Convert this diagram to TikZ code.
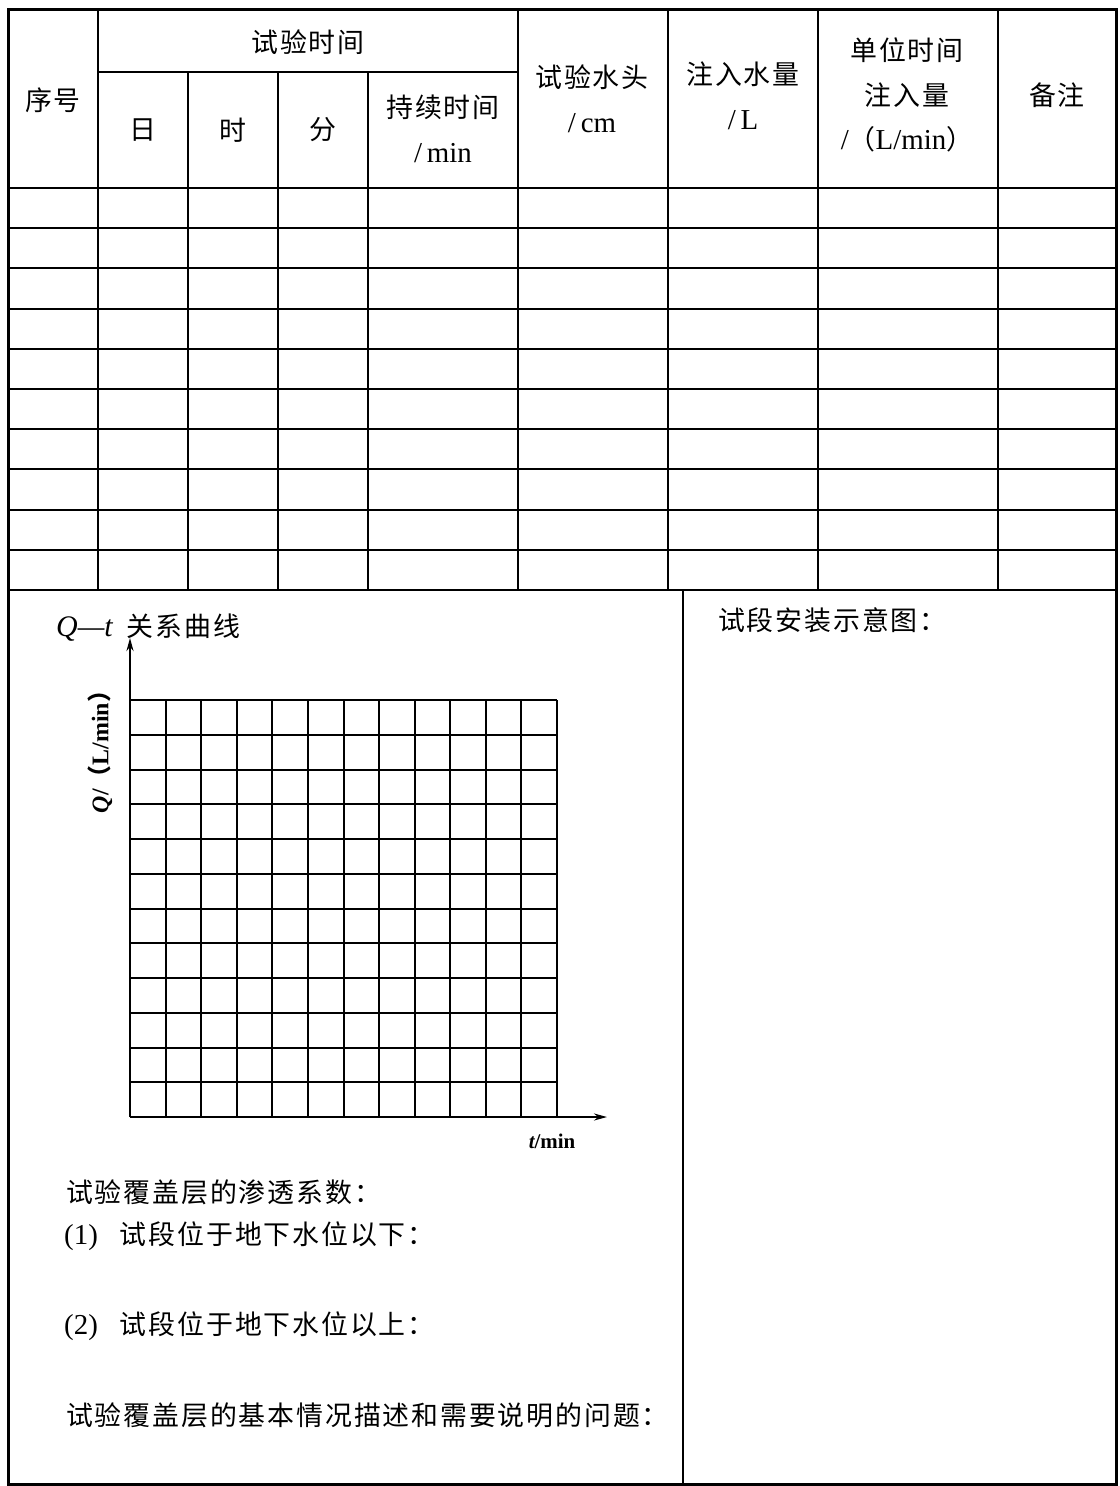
\documentclass[tikz,border=0pt]{standalone}
\usepackage{fontspec}
\setmainfont{Liberation Serif}
\newfontfamily\cjk[LetterSpace=7]{Noto Sans CJK SC}
\newcommand\latn[1]{{\rmfamily\fontsize{29}{45}\selectfont #1}}
\usetikzlibrary{arrows.meta}
\begin{document}
\begin{tikzpicture}[x=1bp,y=-1bp,
  frameline/.style={line width=3bp},
  rule/.style={line width=2bp},
  gridl/.style={line width=2bp},
  txt/.style={font=\cjk\fontsize{27}{45}\selectfont, inner sep=0pt, align=center},
  lefttxt/.style={txt, anchor=west, align=left},
  axis/.style={gridl, -{Stealth[length=13bp,width=7bp]}},
]
\useasboundingbox (0,0) rectangle (1119,1486);
% ---- table rules ----
\draw[rule] (98,72) -- (518,72);
\foreach \x in {98,518,668,818,998} \draw[rule] (\x,10) -- (\x,590);
\foreach \x in {188,278,368} \draw[rule] (\x,72) -- (\x,590);
\foreach \y in {188,228,268,309,349,389,429,469,510,550,590} \draw[rule] (8,\y) -- (1116,\y);
\draw[rule] (683,590) -- (683,1484);
\draw[frameline] (8,10) rectangle (1116,1484);
% ---- header texts ----
\node[txt] (xh) at (53,100) {序号};
\node[txt] (sjsj) at (308,42) {试验时间};
\node[txt] (ri) at (143,130) {日};
\node[txt] (shi) at (233,130) {时};
\node[txt] (fen) at (323,130) {分};
\node[txt] (cxsj) at (443,129) {持续时间\\\latn{/\,min}};
\node[txt] (sysh) at (592,99) {试验水头\\\latn{/\,cm}};
\node[txt] (zrsl) at (743,96) {注入水量\\\latn{/\,L}};
\node[txt] (dwsj) at (907,95) {单位时间\\注入量\\\latn{/}（\latn{L/min}）};
\node[txt] (bz) at (1057,95) {备注};
% ---- Q-t chart ----
\node[lefttxt] (qt) at (56,628) {{\rmfamily\itshape\fontsize{30}{30}\selectfont Q—t}\hspace{14bp}关系曲线};
\foreach \x in {130,166,201,237,272,308,344,379,415,450,486,521,557}
  \draw[gridl] (\x,700) -- (\x,1117);
\foreach \y in {700,735,770,804,839,874,909,943,978,1013,1048,1082,1117}
  \draw[gridl] (130,\y) -- (557,\y);
\coordinate (O) at (130,1117);
\coordinate (ytip) at (130,638);
\coordinate (xtip) at (607,1117);
\draw[axis] (O) -- (ytip);
\draw[axis] (O) -- (xtip);
\node[font=\cjk\bfseries\fontsize{24}{24}\selectfont, rotate=90, inner sep=0pt] (ql) at (100,746)
  {{\rmfamily\itshape Q}{\rmfamily /}（{\rmfamily L/min}）};
\node[font=\bfseries\fontsize{21}{21}\selectfont, inner sep=0pt] (tl) at (552,1141) {{\itshape t}/min};
% ---- lower texts ----
\node[lefttxt] (k0) at (66,1192) {试验覆盖层的渗透系数：};
\node[lefttxt] (k1) at (64,1236) {\latn{(1)}\hspace{22bp}试段位于地下水位以下：};
\node[lefttxt] (k2) at (64,1326) {\latn{(2)}\hspace{22bp}试段位于地下水位以上：};
\node[lefttxt] (k3) at (66,1415) {试验覆盖层的基本情况描述和需要说明的问题：};
\node[lefttxt] (az) at (718,620) {试段安装示意图：};
\end{tikzpicture}
\end{document}
